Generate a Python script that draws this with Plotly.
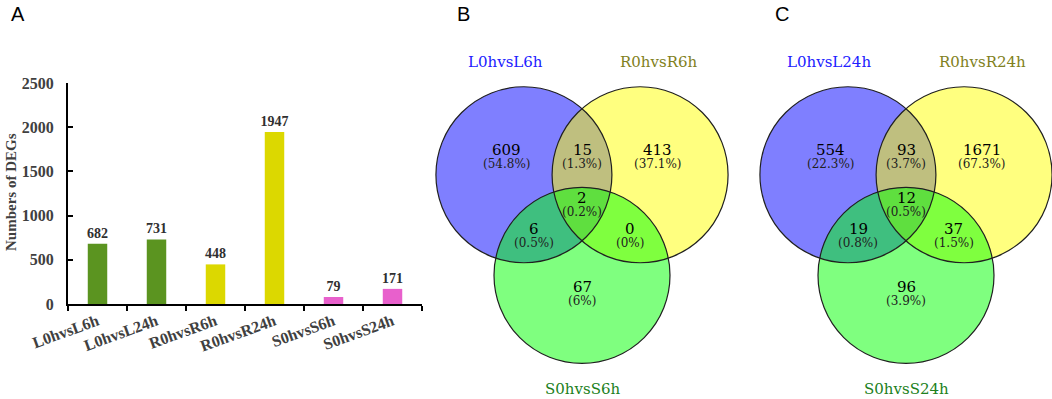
import math
import plotly.graph_objects as go

# ---------------- data ----------------
bar_categories = ["L0hvsL6h", "L0hvsL24h", "R0hvsR6h", "R0hvsR24h", "S0hvsS6h", "S0hvsS24h"]
bar_values = [682, 731, 448, 1947, 79, 171]
bar_colors = ["#5b9420", "#5b9420", "#dcd800", "#dcd800", "#e860cc", "#e860cc"]
y_ticks = [0, 500, 1000, 1500, 2000, 2500]

venn_b_sets = ["L0hvsL6h", "R0hvsR6h", "S0hvsS6h"]
venn_b_counts = [609, 15, 413, 2, 6, 0, 67]
venn_b_pcts = ["(54.8%)", "(1.3%)", "(37.1%)", "(0.2%)", "(0.5%)", "(0%)", "(6%)"]

venn_c_sets = ["L0hvsL24h", "R0hvsR24h", "S0hvsS24h"]
venn_c_counts = [554, 93, 1671, 12, 19, 37, 96]
venn_c_pcts = ["(22.3%)", "(3.7%)", "(67.3%)", "(0.5%)", "(0.8%)", "(1.5%)", "(3.9%)"]

# ---------------- layout constants ----------------
W, H = 1052, 399


def fx(px):  # page pixel x -> paper fraction
    return px / W


def fy(py):  # page pixel y -> paper fraction
    return 1 - py / H


PX = 88.0  # pixels per venn unit (circle radius)
D = 1.32   # centre distance in radius units
circle_fills = ["rgba(0,0,255,0.5)", "rgba(255,255,0,0.5)", "rgba(0,255,0,0.5)"]
set_label_colors = ["#2020ff", "#808020", "#208020"]
centres = [(-D / 2, D / (2 * math.sqrt(3))), (D / 2, D / (2 * math.sqrt(3))), (0.0, -D / math.sqrt(3))]
# region label positions (radius units, relative to centroid): L, LR, R, LRS, LS, RS, S
region_pos = [(-0.86, 0.66), (0.0, 0.66), (0.86, 0.66), (0.0, 0.12), (-0.545, -0.235), (0.545, -0.235), (0.0, -0.89)]
set_label_pos = [(-0.87, 1.66), (0.87, 1.66), (0.0, -2.055)]

SERIF = "Liberation Serif"
VSERIF = "DejaVu Serif"
SANS = "Liberation Sans"

fig = go.Figure()

# ---------------- panel A: bars ----------------
fig.add_trace(go.Bar(
    x=bar_categories, y=bar_values, marker=dict(color=bar_colors, line=dict(width=0)),
    text=["<b>%d</b>" % v for v in bar_values], textposition="outside", constraintext="none",
    textfont=dict(family=SERIF, size=14, color="#303030"),
    cliponaxis=False, width=0.33, xaxis="x", yaxis="y", showlegend=False, hoverinfo="skip",
))

fig.update_layout(
    template="none",
    xaxis=dict(domain=[fx(68), fx(422)], range=[-0.5, 5.5], type="category",
               tickvals=bar_categories, ticktext=["<b>%s</b>" % c for c in bar_categories],
               showline=True, linecolor="black", linewidth=2, automargin=False,
               ticks="outside", ticklen=5, tickwidth=2, tickcolor="black", tickson="boundaries",
               tickangle=-20, tickfont=dict(family=SERIF, size=16, color="#404040"),
               showgrid=False, zeroline=False, fixedrange=True, anchor="y"),
    yaxis=dict(domain=[fy(304), fy(83)], range=[0, 2500], automargin=False,
               showline=True, linecolor="black", linewidth=2,
               ticks="inside", ticklen=5, tickwidth=2, tickcolor="black",
               tickvals=y_ticks, ticktext=["<b>%d</b>" % t for t in y_ticks],
               tickfont=dict(family=SERIF, size=16, color="#404040"), ticklabelstandoff=9,
               showgrid=False, zeroline=False, anchor="x"),
)

annotations = [
    dict(text="<b>Numbers of DEGs</b>", x=fx(11), y=fy(192), xref="paper", yref="paper",
         xanchor="center", yanchor="middle",
         textangle=-90, showarrow=False, font=dict(family=SERIF, size=15, color="#404040")),
]

# panel letters
for letter, px in [("A", 18), ("B", 463), ("C", 782)]:
    annotations.append(dict(text=letter, x=fx(px), y=fy(14), xref="paper", yref="paper",
                            xanchor="center", yanchor="middle",
                            showarrow=False, font=dict(family=SANS, size=20, color="black")))

shapes = []


def add_venn(xa, ya, cx_px, x0_px, x1_px, sets, counts, pcts):
    cy_px = 208.3
    fig.update_layout(**{
        "xaxis%s" % xa[1:]: dict(domain=[fx(x0_px), fx(x1_px)],
                                 range=[(x0_px - cx_px) / PX, (x1_px - cx_px) / PX],
                                 visible=False, anchor=ya, automargin=False, showgrid=False, zeroline=False),
        "yaxis%s" % ya[1:]: dict(domain=[0, 1], range=[(cy_px - H) / PX, cy_px / PX],
                                 visible=False, anchor=xa, automargin=False, showgrid=False, zeroline=False),
    })
    for (cx, cy), fill in zip(centres, circle_fills):
        shapes.append(dict(type="circle", xref=xa, yref=ya, x0=cx - 1, x1=cx + 1, y0=cy - 1, y1=cy + 1,
                           fillcolor=fill, line=dict(width=0), layer="below"))
    for (cx, cy) in centres:
        shapes.append(dict(type="circle", xref=xa, yref=ya, x0=cx - 1, x1=cx + 1, y0=cy - 1, y1=cy + 1,
                           fillcolor="rgba(0,0,0,0)", line=dict(color="#202020", width=1.2), layer="above"))
    for (px_, py_), n, p in zip(region_pos, counts, pcts):
        annotations.append(dict(text=str(n), x=px_, y=py_, xref=xa, yref=ya, showarrow=False,
                                xanchor="center", yanchor="middle",
                                font=dict(family=VSERIF, size=15, color="black")))
        annotations.append(dict(text=p, x=px_, y=py_ - 0.16, xref=xa, yref=ya, showarrow=False,
                                xanchor="center", yanchor="middle",
                                font=dict(family=VSERIF, size=12, color="#202020")))
    for (px_, py_), s, col in zip(set_label_pos, sets, set_label_colors):
        annotations.append(dict(text=s, x=px_, y=py_, xref=xa, yref=ya, showarrow=False,
                                xanchor="center", yanchor="middle",
                                font=dict(family=VSERIF, size=15, color=col)))


add_venn("x2", "y2", 582, 425, 754, venn_b_sets, venn_b_counts, venn_b_pcts)
add_venn("x3", "y3", 906, 754, 1052, venn_c_sets, venn_c_counts, venn_c_pcts)

fig.update_layout(
    width=W, height=H, margin=dict(l=0, r=0, t=0, b=0, pad=0),
    paper_bgcolor="white", plot_bgcolor="rgba(0,0,0,0)",
    annotations=annotations, shapes=shapes, showlegend=False,
)

fig.write_html("out.html", config={"displayModeBar": False},
               post_script="document.body.style.margin='0';document.body.style.overflow='hidden';")
